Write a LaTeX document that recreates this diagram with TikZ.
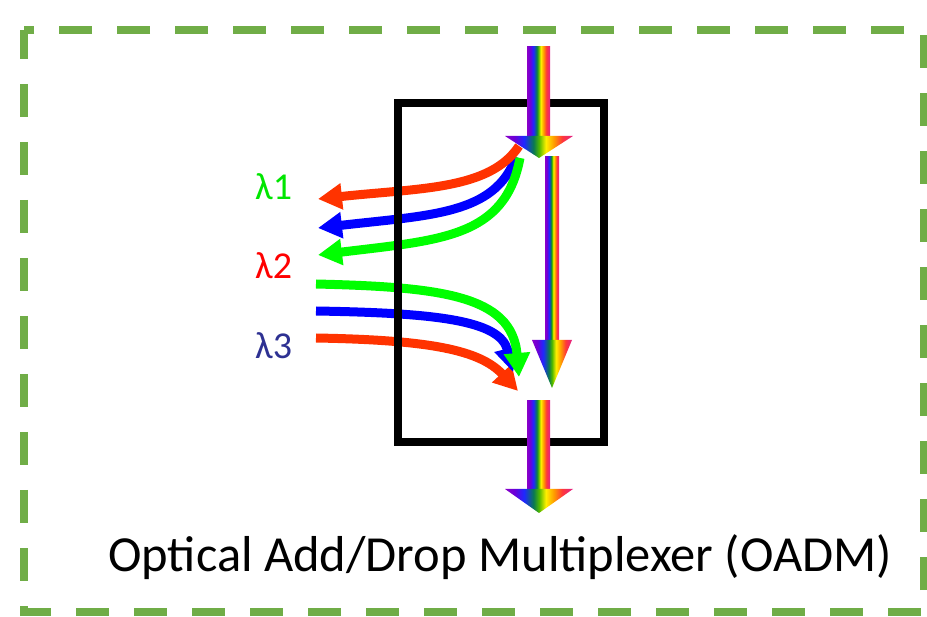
\documentclass[tikz,border=0pt]{standalone}
\usepackage{fontspec}
\setmainfont{Carlito}
\usetikzlibrary{arrows.meta}
\definecolor{frameg}{HTML}{70AD47}
\definecolor{ared}{HTML}{FF3300}
\definecolor{ablue}{HTML}{0000FF}
\definecolor{agreen}{HTML}{00FF00}
\definecolor{lgreen}{HTML}{00E600}
\definecolor{lred}{HTML}{FF0000}
\definecolor{lblue}{HTML}{2E3192}
\definecolor{rv}{HTML}{8B00C8}
\definecolor{rp}{HTML}{6A00D8}
\definecolor{rb}{HTML}{1E28FF}
\definecolor{rt}{HTML}{0A7A50}
\definecolor{rg}{HTML}{50B800}
\definecolor{ry}{HTML}{FFF000}
\definecolor{ro}{HTML}{FF9A00}
\definecolor{rr}{HTML}{FF3838}
\definecolor{rm}{HTML}{E0208C}
\pgfdeclarehorizontalshading{rainbow}{100bp}{color(0bp)=(rv); color(25bp)=(rv); color(32bp)=(rp); color(39bp)=(rb); color(46bp)=(rt); color(50bp)=(rg); color(55bp)=(ry); color(61bp)=(ro); color(67bp)=(rr); color(75bp)=(rm); color(100bp)=(rm)}
\tikzset{
  fiber/.style={line width=9pt, -{Triangle[length=24pt,width=25pt]}},
  rain/.style={shading=rainbow},
  lab/.style={font=\fontsize{38pt}{38pt}\selectfont, anchor=base west, inner sep=0pt},
}
\begin{document}
\begin{tikzpicture}[x=1pt,y=-1pt]
\useasboundingbox (0,0) rectangle (927,617);
% frame
\draw[frameg, line width=8pt, dash pattern=on 33pt off 25pt, dash phase=4pt] (24,30) -- (24,612) -- (924,612) -- (924,30) -- cycle;
% named coordinates
\coordinate (dr0) at (519,146); \coordinate (dr1) at (318,199);
\coordinate (db0) at (516,157); \coordinate (db1) at (318,228);
\coordinate (dg0) at (520,158); \coordinate (dg1) at (318,255);
\coordinate (ag0) at (316,284); \coordinate (ag1) at (519,377);
\coordinate (ab0) at (316,311); \coordinate (ab1) at (513,372);
\coordinate (ar0) at (316,338); \coordinate (ar1) at (518,391);
% drop arrows
\draw[fiber, ablue] (db0) .. controls (495,215) and (430,215) .. (db1);
\draw[fiber, agreen] (dg0) .. controls (505,238) and (440,240) .. (dg1);
\draw[fiber, ared] (dr0) .. controls (490,190) and (420,188) .. (dr1);
% add arrows
\draw[fiber, ared] (ar0) .. controls (430,340) and (480,350) .. (ar1);
\draw[fiber, ablue] (ab0) .. controls (435,313) and (500,320) .. (ab1);
\draw[fiber, agreen] (ag0) .. controls (440,287) and (512,295) .. (ag1);
% box
\node[draw=black, line width=8pt, minimum width=206pt, minimum height=339pt, inner sep=0pt] (box) at (500.5,272.5) {};
% rainbow arrows
\shade[rain] (527,47) rectangle (550,137);
\shade[rain] (505,136) -- (573,136) -- (539,158) -- cycle;
\shade[rain] (545,157) rectangle (559,341);
\shade[rain] (532,340) -- (572,340) -- (552,388) -- cycle;
\shade[rain] (527,401) rectangle (550,490);
\shade[rain] (505,489) -- (573,489) -- (539,513) -- cycle;
% labels
\node[lab, text=lgreen] (l1) at (255,200) {λ1};
\node[lab, text=lred] (l2) at (255,279) {λ2};
\node[lab, text=lblue] (l3) at (255,359) {λ3};
\node[anchor=base west, inner sep=0pt, font=\fontsize{50.5pt}{50.5pt}\selectfont] (cap) at (108,572) {Optical Add/Drop Multiplexer (OADM)};
\end{tikzpicture}
\end{document}
